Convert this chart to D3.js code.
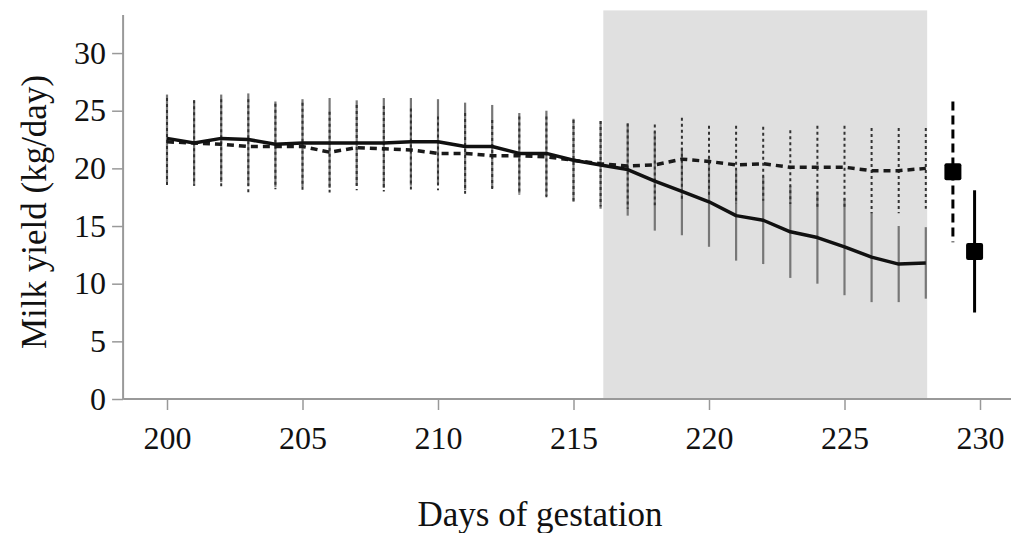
<!DOCTYPE html>
<html>
    <head>
        <meta charset="utf-8">
        <title>Milk yield</title>
        <script src="https://d3js.org/d3.v7.min.js" charset="utf-8"></script>
        <style>
            body { margin: 0; background: #fff; }
            text { font-family: "Liberation Serif", "Times New Roman", serif; fill: #111; }
        </style>
    </head>
    <body>
        <script>
            var width = 1011;
            var height = 533;

            // days of gestation
            var days = d3.range(200, 229);
            // solid series (mean and error)
            var solidMean = [22.6, 22.2, 22.6, 22.5, 22.1, 22.2, 22.2, 22.2, 22.2, 22.3,
                             22.3, 21.9, 21.9, 21.3, 21.3, 20.7, 20.3, 19.9, 18.9, 18.0,
                             17.1, 15.9, 15.5, 14.5, 14.0, 13.2, 12.3, 11.7, 11.8];
            var solidErr = [3.8, 3.7, 3.8, 4.0, 3.7, 3.8, 3.9, 3.7, 3.9, 3.8,
                            3.7, 3.8, 3.6, 3.5, 3.7, 3.6, 3.8, 4.0, 4.3, 3.8,
                            3.9, 3.9, 3.8, 4.0, 4.0, 4.2, 3.9, 3.3, 3.1];
            // dotted series (mean and error)
            var dottedMean = [22.3, 22.2, 22.1, 21.9, 21.9, 21.9, 21.4, 21.8, 21.7, 21.6,
                              21.3, 21.3, 21.1, 21.1, 21.0, 20.7, 20.4, 20.2, 20.3, 20.8,
                              20.6, 20.3, 20.4, 20.1, 20.1, 20.1, 19.8, 19.8, 20.0];
            var dottedErr = [3.8, 3.7, 3.9, 4.1, 3.7, 3.8, 3.5, 3.7, 3.7, 3.6,
                             3.2, 3.5, 3.1, 3.4, 3.5, 3.5, 3.7, 3.7, 3.5, 3.6,
                             3.1, 3.4, 3.2, 3.2, 3.6, 3.6, 3.7, 3.7, 3.5];
            // separate points after the period
            var extraDay = [229.0, 229.8];
            var extraMean = [19.7, 12.8];
            var extraErr = [6.1, 5.3];
            var extraDashed = [true, false];

            var shadeFrom = 216.1;
            var shadeTo = 228.05;

            var xTicks = [200, 205, 210, 215, 220, 225, 230];
            var yTicks = [0, 5, 10, 15, 20, 25, 30];

            var x = d3.scaleLinear().domain([200, 230]).range([167, 980]);
            var y = d3.scaleLinear().domain([0, 33.3]).range([399, 15]);

            var svg = d3.select("body").append("svg")
                        .attr("width", width)
                        .attr("height", height);

            // shaded period
            svg.append("rect")
                .attr("x", x(shadeFrom))
                .attr("y", y(33.7))
                .attr("width", x(shadeTo) - x(shadeFrom))
                .attr("height", y(0) - y(33.7))
                .attr("fill", "#e0e0e0");

            // axes
            var axisColor = "#999";
            var yAxis = svg.append("g")
                .attr("transform", "translate(" + x(198.38) + ",0)")
                .call(d3.axisLeft(y).tickValues(yTicks).tickSize(11).tickPadding(6).tickFormat(d3.format("d")));
            yAxis.select(".domain").attr("stroke", axisColor).attr("stroke-width", 2).attr("d", "M0," + y(0) + "V" + y(33.3));
            yAxis.selectAll(".tick line").attr("stroke", axisColor).attr("stroke-width", 1.5);
            yAxis.selectAll(".tick text").attr("font-size", 32).attr("fill", "#111");

            var xAxis = svg.append("g")
                .attr("transform", "translate(0," + y(0) + ")")
                .call(d3.axisBottom(x).tickValues(xTicks).tickSize(11).tickPadding(16).tickFormat(d3.format("d")));
            xAxis.select(".domain").attr("stroke", axisColor).attr("stroke-width", 2).attr("d", "M" + x(198.38) + ",0H" + width);
            xAxis.selectAll(".tick line").attr("stroke", axisColor).attr("stroke-width", 1.5);
            xAxis.selectAll(".tick text").attr("font-size", 32).attr("fill", "#111");

            svg.append("text")
                .attr("transform", "translate(46," + 212 + ") rotate(-90)")
                .attr("text-anchor", "middle")
                .attr("font-size", 35)
                .text("Milk yield (kg/day)");

            svg.append("text")
                .attr("x", 540)
                .attr("y", 526)
                .attr("text-anchor", "middle")
                .attr("font-size", 35)
                .text("Days of gestation");

            // error bars: solid series (gray) then dotted series on top
            svg.selectAll("line.solidErr")
                .data(days)
                .enter()
                .append("line")
                .attr("class", "solidErr")
                .attr("x1", function(d) { return x(d); })
                .attr("x2", function(d) { return x(d); })
                .attr("y1", function(d, i) { return y(solidMean[i] - solidErr[i]); })
                .attr("y2", function(d, i) { return y(solidMean[i] + solidErr[i]); })
                .attr("stroke", "#777")
                .attr("stroke-width", 2.2);

            svg.selectAll("line.dottedErr")
                .data(days)
                .enter()
                .append("line")
                .attr("class", "dottedErr")
                .attr("x1", function(d) { return x(d); })
                .attr("x2", function(d) { return x(d); })
                .attr("y1", function(d, i) { return y(dottedMean[i] + dottedErr[i]); })
                .attr("y2", function(d, i) { return y(dottedMean[i] - dottedErr[i]); })
                .attr("stroke", "#333")
                .attr("stroke-width", 2)
                .attr("stroke-dasharray", "3,3");

            var line = d3.line()
                .x(function(d) { return x(d[0]); })
                .y(function(d) { return y(d[1]); });

            svg.append("path")
                .datum(days.map(function(d, i) { return [d, dottedMean[i]]; }))
                .attr("fill", "none")
                .attr("stroke", "#1a1a1a")
                .attr("stroke-width", 3.5)
                .attr("stroke-dasharray", "7,5")
                .attr("d", line);

            svg.append("path")
                .datum(days.map(function(d, i) { return [d, solidMean[i]]; }))
                .attr("fill", "none")
                .attr("stroke", "#111")
                .attr("stroke-width", 3.5)
                .attr("stroke-linejoin", "round")
                .attr("d", line);

            // separate points
            var extra = svg.selectAll("g.extra")
                .data(extraDay)
                .enter()
                .append("g")
                .attr("class", "extra");

            extra.append("line")
                .attr("x1", function(d) { return x(d); })
                .attr("x2", function(d) { return x(d); })
                .attr("y1", function(d, i) { return y(extraMean[i] + extraErr[i]); })
                .attr("y2", function(d, i) { return y(extraMean[i] - extraErr[i]); })
                .attr("stroke", "#000")
                .attr("stroke-width", 3)
                .attr("stroke-dasharray", function(d, i) { return extraDashed[i] ? "9,5" : null; });

            extra.append("rect")
                .attr("x", function(d) { return x(d) - 8.5; })
                .attr("y", function(d, i) { return y(extraMean[i]) - 8.5; })
                .attr("width", 17)
                .attr("height", 17)
                .attr("rx", 2)
                .attr("fill", "#000");
        </script>
    </body>
</html>
